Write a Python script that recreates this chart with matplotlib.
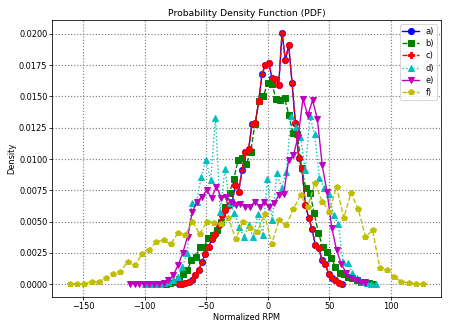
import numpy as np
import matplotlib
matplotlib.use("Agg")
import matplotlib.pyplot as plt

# ---- data ----
x_ac_range = (-72.4, 60.5)
x_b_range = (-82.6, 86.0)
x_d_range = (-100.0, 88.1)
x_e_range = (-112.0, 79.5)
x_f_range = (-160.7, 126.3)

y_c = [0.0000, 0.0000, 0.0001, 0.0002, 0.0003, 0.0007, 0.0011, 0.0018, 0.0024, 0.0030,
       0.0036, 0.0040, 0.0047, 0.0055, 0.0059, 0.0063, 0.0065, 0.0079, 0.0074, 0.0091,
       0.0106, 0.0108, 0.0128, 0.0129, 0.0146, 0.0168, 0.0175, 0.0177, 0.0165, 0.0164,
       0.0159, 0.0201, 0.0179, 0.0191, 0.0161, 0.0129, 0.0101, 0.0092, 0.0063, 0.0053,
       0.0044, 0.0031, 0.0029, 0.0019, 0.0016, 0.0008, 0.0005, 0.0003, 0.0001, 0.0000]
y_a = list(y_c)

y_b = [0.0000, 0.0001, 0.0002, 0.0004, 0.0008, 0.0011, 0.0019, 0.0022, 0.0030, 0.0030,
       0.0037, 0.0039, 0.0043, 0.0050, 0.0062, 0.0073, 0.0084, 0.0099, 0.0101, 0.0096,
       0.0106, 0.0128, 0.0146, 0.0150, 0.0161, 0.0160, 0.0148, 0.0147, 0.0149, 0.0135,
       0.0121, 0.0120, 0.0093, 0.0077, 0.0073, 0.0057, 0.0041, 0.0030, 0.0026, 0.0021,
       0.0014, 0.0009, 0.0008, 0.0006, 0.0005, 0.0003, 0.0002, 0.0002, 0.0001, 0.0000]

y_d = [0.0000, 0.0000, 0.0000, 0.0000, 0.0001, 0.0002, 0.0003, 0.0006, 0.0014, 0.0025,
       0.0065, 0.0066, 0.0086, 0.0099, 0.0083, 0.0133, 0.0058, 0.0092, 0.0065, 0.0057,
       0.0046, 0.0038, 0.0047, 0.0038, 0.0056, 0.0039, 0.0084, 0.0051, 0.0089, 0.0077,
       0.0090, 0.0134, 0.0126, 0.0118, 0.0091, 0.0134, 0.0120, 0.0085, 0.0077, 0.0072,
       0.0055, 0.0048, 0.0018, 0.0017, 0.0009, 0.0005, 0.0002, 0.0001, 0.0000, 0.0000]

y_e = [0.00005, 0.00005, 0.00005, 0.00005, 0.00005, 0.00005, 0.00005, 0.0001, 0.0003, 0.0007,
       0.0015, 0.0025, 0.0038, 0.0058, 0.0066, 0.0070, 0.0075, 0.0069, 0.0078, 0.0069,
       0.0070, 0.0066, 0.0063, 0.0064, 0.0062, 0.0062, 0.0066, 0.0062, 0.0066, 0.0062,
       0.0065, 0.0071, 0.0072, 0.0099, 0.0103, 0.0118, 0.0148, 0.0135, 0.0147, 0.0132,
       0.0095, 0.0074, 0.0045, 0.0027, 0.0016, 0.0009, 0.0005, 0.0003, 0.00015, 0.0001]

y_f = [0.0000, 0.0000, 0.0000, 0.0002, 0.0002, 0.0005, 0.0008, 0.0010, 0.0018, 0.0015,
       0.0024, 0.0027, 0.0034, 0.0035, 0.0032, 0.0041, 0.0039, 0.0050, 0.0040, 0.0050,
       0.0049, 0.0048, 0.0053, 0.0036, 0.0050, 0.0045, 0.0042, 0.0056, 0.0032, 0.0051,
       0.0047, 0.0060, 0.0071, 0.0062, 0.0081, 0.0066, 0.0058, 0.0078, 0.0053, 0.0073,
       0.0060, 0.0038, 0.0043, 0.0013, 0.0011, 0.0006, 0.0002, 0.0001, 0.0000, 0.0000]

labels = ["a)", "b)", "c)", "d)", "e)", "f)"]

x_a = np.linspace(*x_ac_range, len(y_a))
x_c = np.linspace(*x_ac_range, len(y_c))
x_b = np.linspace(*x_b_range, len(y_b))
x_d = np.linspace(*x_d_range, len(y_d))
x_e = np.linspace(*x_e_range, len(y_e))
x_f = np.linspace(*x_f_range, len(y_f))

plt.rcParams.update({
    "font.size": 8.5,
    "axes.titlesize": 9.5,
    "axes.labelsize": 8.5,
    "xtick.labelsize": 8.5,
    "ytick.labelsize": 8.5,
    "legend.fontsize": 8.5,
    "lines.markersize": 6.3,
    "lines.linewidth": 1.4,
})

fig = plt.figure(figsize=(449 / 70, 329 / 70), dpi=70)
ax = fig.add_axes([0.1165, 0.098, 0.865, 0.841])

ax.plot(x_a, y_a, "b-o", label=labels[0])
ax.plot(x_b, y_b, "g--s", label=labels[1])
ax.plot(x_c, y_c, "r--P", label=labels[2])
ax.plot(x_d, y_d, "c:^", label=labels[3])
ax.plot(x_e, y_e, "m-v", label=labels[4])
ax.plot(x_f, y_f, "y--p", label=labels[5])

ax.set_title("Probability Density Function (PDF)", pad=4)
ax.set_xlabel("Normalized RPM", labelpad=2)
ax.set_ylabel("Density", labelpad=3)
ax.tick_params(length=3, pad=2)
ax.grid(True, linestyle=":", color="gray", linewidth=1.2)
ax.legend(loc="upper right", borderpad=0.3, labelspacing=0.4, handlelength=2.0)

fig.savefig("out.png", dpi=70)
